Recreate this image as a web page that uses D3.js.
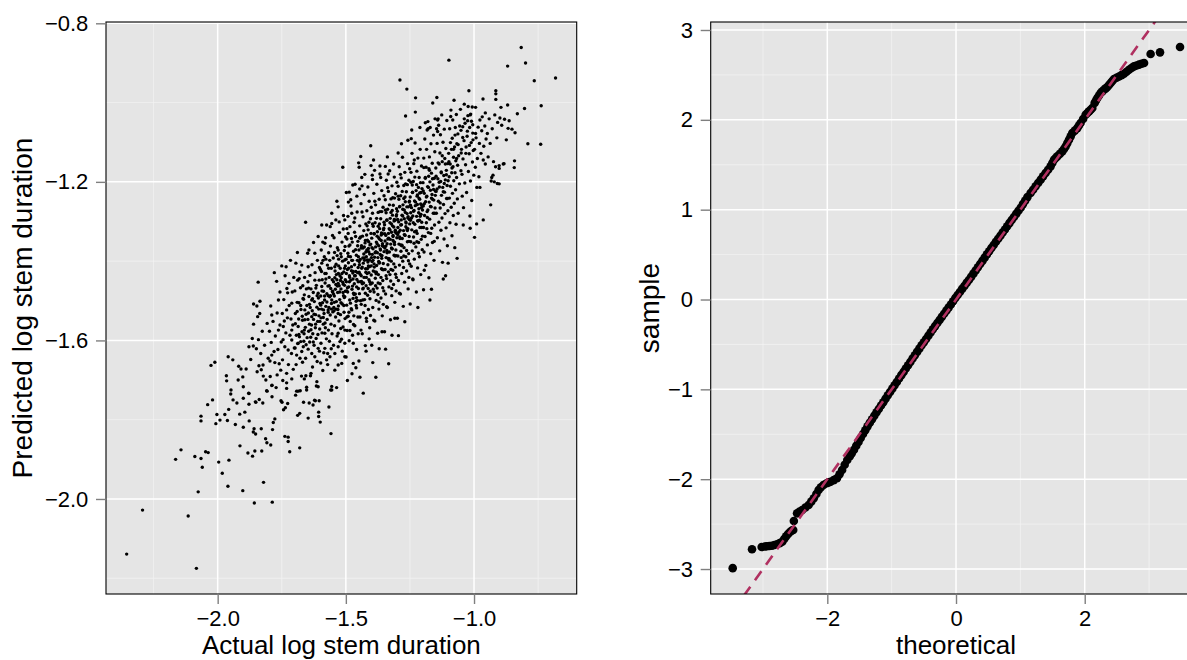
<!DOCTYPE html>
<html><head><meta charset="utf-8">
<script src="https://cdn.jsdelivr.net/npm/d3@7"></script>
<style>body{margin:0;background:#fff;} svg{display:block;}</style>
</head><body>
<svg id="c" width="1187" height="660"></svg>
<script>
// ---------------- DATA ----------------
// Left panel: actual vs predicted log stem duration (each point [actual, predicted])
const scatterPoints = [
[-2.355,-2.139],[-2.293,-2.028],[-2.115,-2.043],[-2.083,-2.175],[-2.076,-1.982],[-2.164,-1.900],[-2.143,-1.876],[-2.089,-1.893],[-2.065,-1.898],[-2.060,-1.920],[-2.047,-1.881],[-2.037,-1.883],[-2.003,-1.787],[-2.007,-1.810],[-2.039,-1.762],[-2.020,-1.750],[-2.026,-1.663],[-2.011,-1.655],[-2.065,-1.791],[-2.065,-1.803],
[-1.996,-1.907],[-1.982,-1.935],[-1.960,-1.968],[-1.956,-1.902],[-1.972,-1.787],[-1.962,-1.802],[-1.957,-1.774],[-1.991,-1.801],[-1.959,-1.641],[-1.966,-1.689],[-1.965,-1.702],
[-1.902,-1.979],[-1.913,-1.866],[-1.914,-1.786],[-1.949,-1.735],[-1.948,-1.725],[-1.940,-1.750],[-1.941,-1.649],[-1.918,-1.665],[-1.909,-1.672],[-1.902,-1.692],[-1.920,-1.700],[-1.931,-1.812],[-1.925,-1.758],
[-1.857,-2.010],[-1.882,-1.884],[-1.864,-1.892],[-1.855,-1.879],[-1.877,-1.803],[-1.858,-1.823],[-1.861,-1.831],[-1.852,-1.836],[-1.878,-1.761],[-1.878,-1.734],[-1.851,-1.756],[-1.865,-1.595],[-1.878,-1.616],[-1.861,-1.614],[-1.879,-1.733],[-1.853,-1.755],[-1.860,-1.508],[-1.860,-1.559],[-1.900,-1.746],[-1.900,-1.819],[-1.900,-1.717],[-1.889,-1.672],[-1.871,-1.648],[-1.894,-1.781],
[-1.828,-1.879],[-1.813,-1.848],[-1.808,-1.858],[-1.830,-1.823],[-1.809,-1.727],[-1.824,-1.758],[-1.838,-1.749],[-1.821,-1.958],[-1.846,-1.679],[-1.839,-1.664],[-1.830,-1.674],[-1.823,-1.662],[-1.822,-1.690],[-1.812,-1.700],[-1.807,-1.728],[-1.842,-1.453],[-1.847,-1.513],[-1.835,-1.501],[-1.836,-1.532],[-1.844,-1.540],[-1.807,-1.557],[-1.849,-1.621],[-1.841,-1.598],[-1.832,-1.633],[-1.826,-1.577],[-1.817,-1.612],[-1.803,-1.645],
[-1.793,-1.864],[-1.787,-2.008],[-1.786,-1.825],[-1.783,-1.807],[-1.777,-1.798],[-1.788,-1.742],[-1.788,-1.713],[-1.753,-1.752],[-1.789,-1.714],[-1.796,-1.652],[-1.789,-1.637],[-1.777,-1.656],[-1.768,-1.687],[-1.754,-1.675],[-1.750,-1.412],[-1.779,-1.429],[-1.770,-1.451],[-1.793,-1.513],[-1.789,-1.536],[-1.763,-1.498],[-1.757,-1.478],[-1.763,-1.574],[-1.798,-1.577],[-1.795,-1.691],[-1.791,-1.605],[-1.784,-1.552],[-1.780,-1.628],[-1.775,-1.589],[-1.772,-1.719],[-1.768,-1.531],[-1.765,-1.623],[-1.760,-1.659],[-1.757,-1.561],[-1.752,-1.604],
[-1.738,-1.842],[-1.725,-1.844],[-1.725,-1.855],[-1.719,-1.881],[-1.727,-1.759],[-1.743,-1.775],[-1.736,-1.770],[-1.749,-1.756],[-1.731,-1.683],[-1.731,-1.707],[-1.731,-1.721],[-1.711,-1.697],[-1.747,-1.649],[-1.725,-1.624],[-1.738,-1.616],[-1.711,-1.599],[-1.722,-1.456],[-1.727,-1.480],[-1.711,-1.506],[-1.731,-1.523],[-1.744,-1.565],[-1.711,-1.574],[-1.705,-1.673],[-1.748,-1.532],[-1.745,-1.598],[-1.742,-1.497],[-1.740,-1.551],[-1.737,-1.437],[-1.734,-1.581],[-1.730,-1.469],[-1.728,-1.543],[-1.724,-1.661],[-1.721,-1.512],[-1.718,-1.587],[-1.716,-1.398],[-1.714,-1.546],[-1.712,-1.633],[-1.709,-1.478],[-1.707,-1.561],[-1.703,-1.441],[-1.701,-1.619],[-1.746,-1.701],[-1.733,-1.414],
[-1.692,-1.728],[-1.686,-1.607],[-1.692,-1.637],[-1.679,-1.645],[-1.672,-1.628],[-1.666,-1.616],[-1.662,-1.697],[-1.656,-1.689],[-1.653,-1.725],[-1.695,-1.405],[-1.672,-1.410],[-1.679,-1.427],[-1.699,-1.475],[-1.688,-1.448],[-1.682,-1.444],[-1.686,-1.565],[-1.660,-1.548],[-1.660,-1.523],[-1.662,-1.485],[-1.657,-1.302],[-1.688,-1.789],[-1.680,-1.784],[-1.696,-1.738],[-1.686,-1.728],[-1.678,-1.727],[-1.665,-1.756],[-1.653,-1.718],[-1.680,-1.871],
[-1.697,-1.532],[-1.693,-1.587],[-1.690,-1.504],[-1.684,-1.546],[-1.681,-1.591],[-1.677,-1.467],[-1.675,-1.522],[-1.671,-1.578],[-1.669,-1.655],[-1.667,-1.494],[-1.664,-1.602],[-1.661,-1.441],[-1.658,-1.567],[-1.655,-1.611],[-1.652,-1.512],[-1.698,-1.619],[-1.694,-1.661],[-1.683,-1.505],[-1.676,-1.603],[-1.670,-1.539],[-1.668,-1.462],[-1.663,-1.583],[-1.657,-1.645],[-1.654,-1.470],[-1.651,-1.593],[-1.689,-1.378],[-1.673,-1.690],
[-1.697,-1.558],[-1.690,-1.527],[-1.683,-1.585],[-1.676,-1.512],[-1.669,-1.549],[-1.662,-1.574],[-1.655,-1.534],[-1.688,-1.608],[-1.665,-1.496],
[-1.647,-1.796],[-1.643,-1.758],[-1.628,-1.763],[-1.619,-1.752],[-1.604,-1.752],[-1.615,-1.715],[-1.606,-1.781],[-1.606,-1.792],[-1.636,-1.683],[-1.613,-1.704],[-1.608,-1.717],[-1.647,-1.622],[-1.633,-1.633],[-1.621,-1.641],[-1.608,-1.620],[-1.647,-1.414],[-1.633,-1.540],[-1.633,-1.498],[-1.608,-1.481],[-1.621,-1.448],[-1.621,-1.380],[-1.649,-1.380],[-1.608,-1.338],[-1.622,-1.751],
[-1.648,-1.452],[-1.646,-1.531],[-1.645,-1.577],[-1.644,-1.489],[-1.642,-1.559],[-1.641,-1.604],[-1.640,-1.436],[-1.639,-1.517],[-1.637,-1.592],[-1.636,-1.470],[-1.634,-1.561],[-1.632,-1.409],[-1.631,-1.525],[-1.630,-1.667],[-1.629,-1.583],[-1.627,-1.479],[-1.626,-1.547],[-1.624,-1.612],[-1.623,-1.502],[-1.620,-1.429],[-1.619,-1.568],[-1.618,-1.535],[-1.616,-1.595],[-1.615,-1.461],[-1.613,-1.516],[-1.612,-1.653],[-1.611,-1.398],[-1.610,-1.552],[-1.609,-1.585],[-1.607,-1.493],[-1.605,-1.538],[-1.604,-1.448],[-1.603,-1.627],[-1.602,-1.571],[-1.601,-1.507],[-1.644,-1.372],[-1.638,-1.689],[-1.626,-1.353],[-1.617,-1.468],[-1.603,-1.416],
[-1.648,-1.547],[-1.642,-1.509],[-1.636,-1.573],[-1.630,-1.495],[-1.624,-1.534],[-1.618,-1.559],[-1.612,-1.487],[-1.606,-1.521],[-1.601,-1.552],[-1.645,-1.468],[-1.627,-1.604],
[-1.600,-1.806],[-1.590,-1.676],[-1.575,-1.649],[-1.555,-1.725],[-1.597,-1.607],[-1.582,-1.620],[-1.571,-1.633],[-1.562,-1.641],[-1.558,-1.835],[-1.566,-1.768],[-1.559,-1.725],[-1.555,-1.716],[-1.594,-1.464],[-1.582,-1.431],[-1.594,-1.405],[-1.582,-1.355],[-1.594,-1.309],[-1.575,-1.309],[-1.555,-1.305],[-1.555,-1.279],[-1.555,-1.498],[-1.569,-1.523],[-1.582,-1.582],[-1.561,-1.313],
[-1.599,-1.421],[-1.598,-1.488],[-1.597,-1.543],[-1.596,-1.372],[-1.595,-1.521],[-1.593,-1.581],[-1.592,-1.447],[-1.591,-1.505],[-1.589,-1.398],[-1.588,-1.559],[-1.587,-1.476],[-1.586,-1.631],[-1.585,-1.532],[-1.584,-1.389],[-1.583,-1.498],[-1.581,-1.455],[-1.580,-1.568],[-1.579,-1.341],[-1.578,-1.514],[-1.577,-1.431],[-1.576,-1.596],[-1.574,-1.482],[-1.573,-1.547],[-1.572,-1.410],[-1.570,-1.463],[-1.568,-1.574],[-1.567,-1.379],[-1.566,-1.517],[-1.565,-1.441],[-1.564,-1.602],[-1.563,-1.490],[-1.561,-1.536],[-1.560,-1.362],[-1.559,-1.469],[-1.558,-1.559],[-1.557,-1.418],[-1.556,-1.507],[-1.554,-1.583],[-1.553,-1.447],[-1.552,-1.335],[-1.551,-1.528],[-1.598,-1.657],[-1.590,-1.352],[-1.578,-1.395],[-1.571,-1.661],[-1.563,-1.398],[-1.557,-1.621],[-1.587,-1.523],[-1.569,-1.487],[-1.552,-1.476],
[-1.598,-1.511],[-1.593,-1.475],[-1.588,-1.542],[-1.583,-1.488],[-1.578,-1.445],[-1.574,-1.503],[-1.569,-1.529],[-1.565,-1.462],[-1.560,-1.487],[-1.556,-1.521],[-1.552,-1.478],[-1.595,-1.426],[-1.581,-1.556],[-1.567,-1.418],
[-1.543,-1.675],[-1.530,-1.662],[-1.516,-1.658],[-1.543,-1.633],[-1.530,-1.616],[-1.523,-1.603],[-1.504,-1.641],[-1.504,-1.607],[-1.536,-1.719],[-1.530,-1.263],[-1.504,-1.296],[-1.530,-1.372],[-1.504,-1.397],[-1.543,-1.414],[-1.530,-1.456],[-1.504,-1.490],[-1.530,-1.532],[-1.504,-1.574],[-1.530,-1.582],[-1.512,-1.163],
[-1.549,-1.392],[-1.548,-1.452],[-1.547,-1.517],[-1.546,-1.341],[-1.545,-1.488],[-1.544,-1.563],[-1.542,-1.425],[-1.541,-1.471],[-1.540,-1.541],[-1.539,-1.296],[-1.538,-1.408],[-1.537,-1.502],[-1.535,-1.447],[-1.534,-1.589],[-1.533,-1.366],[-1.532,-1.479],[-1.531,-1.522],[-1.529,-1.431],[-1.528,-1.395],[-1.527,-1.551],[-1.526,-1.462],[-1.525,-1.328],[-1.524,-1.497],[-1.522,-1.418],[-1.521,-1.535],[-1.520,-1.381],[-1.519,-1.470],[-1.518,-1.442],[-1.517,-1.597],[-1.515,-1.352],[-1.514,-1.508],[-1.513,-1.400],[-1.512,-1.453],[-1.511,-1.566],[-1.510,-1.319],[-1.509,-1.487],[-1.508,-1.427],[-1.507,-1.529],[-1.506,-1.373],[-1.505,-1.461],[-1.503,-1.545],[-1.502,-1.412],[-1.501,-1.339],[-1.548,-1.612],[-1.544,-1.378],[-1.539,-1.459],[-1.535,-1.249],[-1.529,-1.513],[-1.523,-1.437],[-1.518,-1.389],[-1.514,-1.627],[-1.509,-1.285],[-1.505,-1.418],[-1.502,-1.476],[-1.546,-1.525],[-1.537,-1.434],[-1.526,-1.301],[-1.520,-1.570],[-1.511,-1.479],[-1.503,-1.363],
[-1.548,-1.483],[-1.543,-1.442],[-1.538,-1.521],[-1.533,-1.463],[-1.528,-1.412],[-1.524,-1.478],[-1.519,-1.505],[-1.515,-1.431],[-1.510,-1.458],[-1.506,-1.492],[-1.502,-1.447],[-1.545,-1.504],[-1.534,-1.386],[-1.521,-1.449],[-1.508,-1.512],
[-1.491,-1.330],[-1.477,-1.279],[-1.477,-1.523],[-1.471,-1.607],[-1.471,-1.658],[-1.498,-1.227],[-1.473,-1.208],[-1.464,-1.206],[-1.450,-1.152],[-1.448,-1.163],
[-1.499,-1.395],[-1.498,-1.452],[-1.497,-1.511],[-1.496,-1.344],[-1.495,-1.575],[-1.494,-1.421],[-1.493,-1.478],[-1.492,-1.287],[-1.491,-1.539],[-1.490,-1.404],[-1.489,-1.465],[-1.488,-1.362],[-1.487,-1.601],[-1.486,-1.437],[-1.485,-1.498],[-1.484,-1.313],[-1.483,-1.552],[-1.482,-1.389],[-1.481,-1.448],[-1.480,-1.261],[-1.479,-1.520],[-1.478,-1.414],[-1.476,-1.471],[-1.475,-1.352],[-1.474,-1.587],[-1.473,-1.430],[-1.472,-1.494],[-1.470,-1.375],[-1.469,-1.538],[-1.468,-1.302],[-1.467,-1.457],[-1.466,-1.409],[-1.465,-1.563],[-1.463,-1.483],[-1.462,-1.338],[-1.461,-1.426],[-1.460,-1.512],[-1.459,-1.385],[-1.458,-1.623],[-1.457,-1.446],[-1.456,-1.276],[-1.455,-1.499],[-1.454,-1.361],[-1.453,-1.541],[-1.452,-1.416],[-1.451,-1.469],[-1.499,-1.642],[-1.496,-1.318],[-1.492,-1.380],[-1.488,-1.529],[-1.485,-1.441],[-1.481,-1.245],[-1.477,-1.398],[-1.474,-1.463],[-1.470,-1.560],[-1.466,-1.327],[-1.463,-1.437],[-1.459,-1.492],[-1.455,-1.398],[-1.452,-1.583],[-1.497,-1.475],[-1.490,-1.251],[-1.484,-1.575],[-1.478,-1.343],[-1.471,-1.426],[-1.465,-1.291],[-1.458,-1.518],[-1.453,-1.350],[-1.494,-1.701],[-1.476,-1.684],[-1.461,-1.669],[-1.487,-1.226],[-1.468,-1.484],[-1.457,-1.236],[-1.489,-1.418],
[-1.498,-1.431],[-1.494,-1.467],[-1.490,-1.388],[-1.486,-1.452],[-1.482,-1.506],[-1.478,-1.424],[-1.474,-1.398],[-1.470,-1.481],[-1.466,-1.437],[-1.462,-1.371],[-1.458,-1.465],[-1.454,-1.429],[-1.451,-1.389],[-1.496,-1.541],[-1.484,-1.359],[-1.472,-1.445],[-1.460,-1.501],[-1.452,-1.452],
[-1.442,-1.136],[-1.437,-1.210],[-1.426,-1.181],[-1.403,-1.109],[-1.402,-1.159],
[-1.449,-1.372],[-1.448,-1.428],[-1.447,-1.482],[-1.446,-1.311],[-1.445,-1.541],[-1.444,-1.396],[-1.443,-1.452],[-1.441,-1.255],[-1.440,-1.509],[-1.439,-1.361],[-1.438,-1.418],[-1.436,-1.583],[-1.435,-1.337],[-1.434,-1.470],[-1.433,-1.288],[-1.432,-1.405],[-1.431,-1.530],[-1.430,-1.382],[-1.429,-1.441],[-1.428,-1.232],[-1.427,-1.497],[-1.425,-1.354],[-1.424,-1.613],[-1.423,-1.419],[-1.422,-1.306],[-1.421,-1.462],[-1.420,-1.389],[-1.419,-1.552],[-1.418,-1.273],[-1.417,-1.431],[-1.416,-1.347],[-1.415,-1.486],[-1.414,-1.402],[-1.413,-1.321],[-1.412,-1.522],[-1.411,-1.376],[-1.410,-1.447],[-1.409,-1.249],[-1.408,-1.414],[-1.407,-1.568],[-1.406,-1.359],[-1.405,-1.476],[-1.404,-1.293],[-1.401,-1.435],[-1.400,-1.391],[-1.449,-1.652],[-1.446,-1.218],[-1.443,-1.339],[-1.440,-1.437],[-1.437,-1.276],[-1.434,-1.392],[-1.431,-1.455],[-1.428,-1.364],[-1.425,-1.512],[-1.422,-1.428],[-1.419,-1.334],[-1.416,-1.397],[-1.413,-1.469],[-1.410,-1.302],[-1.407,-1.382],[-1.404,-1.537],[-1.401,-1.264],[-1.447,-1.409],[-1.441,-1.574],[-1.436,-1.457],[-1.430,-1.323],[-1.424,-1.481],[-1.418,-1.372],[-1.412,-1.412],[-1.406,-1.495],[-1.402,-1.330],[-1.445,-1.693],[-1.432,-1.733],[-1.421,-1.627],[-1.409,-1.596],[-1.438,-1.189],[-1.414,-1.213],[-1.427,-1.398],[-1.411,-1.351],[-1.443,-1.500],[-1.420,-1.544],[-1.407,-1.452],[-1.433,-1.367],
[-1.448,-1.401],[-1.444,-1.433],[-1.440,-1.367],[-1.436,-1.415],[-1.432,-1.468],[-1.428,-1.392],[-1.424,-1.348],[-1.420,-1.441],[-1.416,-1.419],[-1.412,-1.368],[-1.408,-1.397],[-1.404,-1.458],[-1.401,-1.412],[-1.446,-1.342],[-1.434,-1.498],[-1.422,-1.377],[-1.410,-1.429],[-1.403,-1.357],[-1.439,-1.451],[-1.417,-1.311],
[-1.392,-1.145],[-1.367,-1.160],[-1.397,-1.183],[-1.367,-1.180],
[-1.399,-1.342],[-1.398,-1.401],[-1.397,-1.455],[-1.396,-1.279],[-1.395,-1.517],[-1.394,-1.369],[-1.393,-1.425],[-1.391,-1.229],[-1.390,-1.478],[-1.389,-1.331],[-1.388,-1.390],[-1.387,-1.551],[-1.386,-1.303],[-1.385,-1.443],[-1.384,-1.258],[-1.383,-1.376],[-1.382,-1.499],[-1.381,-1.352],[-1.380,-1.411],[-1.379,-1.206],[-1.378,-1.468],[-1.377,-1.326],[-1.376,-1.582],[-1.375,-1.391],[-1.374,-1.277],[-1.373,-1.434],[-1.372,-1.361],[-1.371,-1.521],[-1.370,-1.244],[-1.369,-1.403],[-1.368,-1.318],[-1.366,-1.457],[-1.365,-1.372],[-1.364,-1.293],[-1.363,-1.493],[-1.362,-1.348],[-1.361,-1.419],[-1.360,-1.222],[-1.359,-1.386],[-1.358,-1.538],[-1.357,-1.331],[-1.356,-1.449],[-1.355,-1.264],[-1.354,-1.406],[-1.353,-1.363],[-1.352,-1.475],[-1.351,-1.302],[-1.399,-1.612],[-1.396,-1.194],[-1.393,-1.312],[-1.390,-1.407],[-1.387,-1.249],[-1.384,-1.364],[-1.381,-1.428],[-1.378,-1.337],[-1.375,-1.484],[-1.372,-1.401],[-1.369,-1.306],[-1.366,-1.369],[-1.363,-1.441],[-1.360,-1.275],[-1.357,-1.356],[-1.354,-1.509],[-1.351,-1.235],[-1.397,-1.383],[-1.391,-1.549],[-1.386,-1.427],[-1.380,-1.292],[-1.374,-1.455],[-1.368,-1.345],[-1.362,-1.386],[-1.356,-1.467],[-1.352,-1.317],[-1.395,-1.656],[-1.383,-1.693],[-1.370,-1.621],[-1.359,-1.578],[-1.388,-1.171],[-1.364,-1.189],[-1.377,-1.379],[-1.361,-1.329],[-1.393,-1.471],[-1.371,-1.503],[-1.358,-1.421],
[-1.398,-1.366],[-1.394,-1.398],[-1.390,-1.331],[-1.386,-1.379],[-1.382,-1.432],[-1.378,-1.356],[-1.374,-1.312],[-1.370,-1.405],[-1.366,-1.383],[-1.362,-1.334],[-1.358,-1.361],[-1.354,-1.422],[-1.351,-1.376],[-1.396,-1.306],[-1.384,-1.462],[-1.372,-1.341],[-1.360,-1.393],[-1.353,-1.321],[-1.389,-1.415],[-1.367,-1.275],
[-1.335,-1.180],
[-1.349,-1.308],[-1.348,-1.367],[-1.347,-1.421],[-1.346,-1.245],[-1.345,-1.483],[-1.344,-1.335],[-1.343,-1.391],[-1.342,-1.196],[-1.341,-1.444],[-1.340,-1.297],[-1.339,-1.356],[-1.338,-1.517],[-1.337,-1.269],[-1.336,-1.409],[-1.334,-1.224],[-1.333,-1.342],[-1.332,-1.465],[-1.331,-1.318],[-1.330,-1.377],[-1.329,-1.172],[-1.328,-1.434],[-1.327,-1.292],[-1.326,-1.548],[-1.325,-1.357],[-1.324,-1.243],[-1.323,-1.400],[-1.322,-1.327],[-1.321,-1.487],[-1.320,-1.210],[-1.319,-1.369],[-1.318,-1.284],[-1.317,-1.423],[-1.316,-1.338],[-1.315,-1.259],[-1.314,-1.459],[-1.313,-1.314],[-1.312,-1.385],[-1.311,-1.188],[-1.310,-1.352],[-1.309,-1.504],[-1.308,-1.297],[-1.307,-1.415],[-1.306,-1.230],[-1.305,-1.372],[-1.304,-1.329],[-1.303,-1.441],[-1.302,-1.268],[-1.349,-1.578],[-1.346,-1.161],[-1.343,-1.278],[-1.340,-1.373],[-1.337,-1.215],[-1.334,-1.330],[-1.331,-1.394],[-1.328,-1.303],[-1.325,-1.450],[-1.322,-1.367],[-1.319,-1.272],[-1.316,-1.335],[-1.313,-1.407],[-1.310,-1.241],[-1.307,-1.322],[-1.304,-1.475],[-1.301,-1.201],[-1.347,-1.349],[-1.341,-1.515],[-1.336,-1.393],[-1.330,-1.258],[-1.324,-1.421],[-1.318,-1.311],[-1.312,-1.352],[-1.306,-1.433],[-1.302,-1.283],[-1.345,-1.622],[-1.333,-1.659],[-1.320,-1.587],[-1.309,-1.544],[-1.338,-1.137],[-1.314,-1.155],[-1.327,-1.345],[-1.311,-1.295],[-1.343,-1.437],[-1.321,-1.469],[-1.308,-1.387],
[-1.348,-1.331],[-1.344,-1.362],[-1.340,-1.296],[-1.336,-1.344],[-1.332,-1.397],[-1.328,-1.321],[-1.324,-1.277],[-1.320,-1.369],[-1.316,-1.348],[-1.312,-1.299],[-1.308,-1.326],[-1.304,-1.386],[-1.301,-1.341],[-1.346,-1.271],[-1.334,-1.427],[-1.322,-1.306],[-1.310,-1.358],[-1.303,-1.286],[-1.339,-1.379],[-1.317,-1.240],
[-1.289,-0.943],[-1.262,-0.966],[-1.267,-1.034],
[-1.299,-1.274],[-1.298,-1.333],[-1.297,-1.387],[-1.296,-1.211],[-1.295,-1.449],[-1.294,-1.301],[-1.293,-1.357],[-1.292,-1.162],[-1.291,-1.410],[-1.290,-1.263],[-1.288,-1.322],[-1.287,-1.483],[-1.286,-1.235],[-1.285,-1.375],[-1.284,-1.190],[-1.283,-1.308],[-1.282,-1.431],[-1.281,-1.284],[-1.280,-1.343],[-1.279,-1.138],[-1.278,-1.400],[-1.277,-1.258],[-1.276,-1.514],[-1.275,-1.323],[-1.274,-1.209],[-1.273,-1.366],[-1.272,-1.293],[-1.271,-1.453],[-1.270,-1.176],[-1.269,-1.335],[-1.268,-1.250],[-1.266,-1.389],[-1.265,-1.304],[-1.264,-1.225],[-1.263,-1.425],[-1.261,-1.280],[-1.260,-1.351],[-1.259,-1.154],[-1.258,-1.318],[-1.257,-1.470],[-1.256,-1.263],[-1.255,-1.381],[-1.254,-1.196],[-1.253,-1.338],[-1.252,-1.295],[-1.251,-1.407],[-1.299,-1.544],[-1.296,-1.127],[-1.293,-1.244],[-1.290,-1.339],[-1.287,-1.181],[-1.284,-1.296],[-1.281,-1.360],[-1.278,-1.269],[-1.275,-1.416],[-1.272,-1.333],[-1.269,-1.238],[-1.266,-1.301],[-1.263,-1.373],[-1.260,-1.207],[-1.257,-1.288],[-1.254,-1.441],[-1.251,-1.167],[-1.297,-1.315],[-1.291,-1.481],[-1.286,-1.359],[-1.280,-1.224],[-1.274,-1.387],[-1.268,-1.277],[-1.262,-1.318],[-1.256,-1.399],[-1.252,-1.249],[-1.295,-1.588],[-1.283,-1.104],[-1.270,-1.553],[-1.258,-1.095],
[-1.298,-1.295],[-1.294,-1.327],[-1.290,-1.262],[-1.286,-1.309],[-1.282,-1.361],[-1.278,-1.286],[-1.274,-1.242],[-1.270,-1.334],[-1.266,-1.313],[-1.262,-1.263],[-1.258,-1.291],[-1.254,-1.350],[-1.251,-1.306],[-1.296,-1.236],[-1.284,-1.391],[-1.272,-1.271],[-1.260,-1.323],[-1.253,-1.251],[-1.289,-1.343],[-1.267,-1.205],
[-1.228,-0.988],[-1.229,-1.024],
[-1.249,-1.238],[-1.248,-1.297],[-1.247,-1.351],[-1.246,-1.176],[-1.245,-1.413],[-1.244,-1.265],[-1.243,-1.321],[-1.242,-1.128],[-1.241,-1.374],[-1.240,-1.227],[-1.239,-1.286],[-1.238,-1.447],[-1.237,-1.199],[-1.236,-1.339],[-1.235,-1.154],[-1.234,-1.272],[-1.233,-1.395],[-1.232,-1.248],[-1.231,-1.307],[-1.230,-1.102],[-1.227,-1.364],[-1.226,-1.222],[-1.225,-1.478],[-1.224,-1.287],[-1.223,-1.173],[-1.222,-1.330],[-1.221,-1.257],[-1.220,-1.417],[-1.219,-1.140],[-1.218,-1.299],[-1.217,-1.214],[-1.216,-1.353],[-1.215,-1.268],[-1.214,-1.189],[-1.213,-1.389],[-1.212,-1.244],[-1.211,-1.315],[-1.210,-1.118],[-1.209,-1.282],[-1.208,-1.434],[-1.207,-1.227],[-1.206,-1.345],[-1.205,-1.160],[-1.204,-1.302],[-1.203,-1.259],[-1.202,-1.371],[-1.249,-1.508],[-1.245,-1.091],[-1.241,-1.208],[-1.237,-1.303],[-1.233,-1.145],[-1.229,-1.260],[-1.225,-1.324],[-1.221,-1.233],[-1.217,-1.380],[-1.213,-1.297],[-1.209,-1.202],[-1.205,-1.265],[-1.201,-1.337],[-1.247,-1.278],[-1.239,-1.445],[-1.231,-1.188],[-1.223,-1.351],[-1.215,-1.241],[-1.207,-1.282],[-1.243,-1.069],[-1.219,-1.517],[-1.211,-1.063],
[-1.248,-1.259],[-1.244,-1.291],[-1.240,-1.226],[-1.236,-1.274],[-1.232,-1.326],[-1.228,-1.251],[-1.224,-1.207],[-1.220,-1.298],[-1.216,-1.278],[-1.212,-1.228],[-1.208,-1.256],[-1.204,-1.315],[-1.201,-1.271],[-1.246,-1.201],[-1.234,-1.355],[-1.222,-1.236],[-1.210,-1.287],[-1.203,-1.217],
[-1.183,-1.069],[-1.171,-1.063],[-1.161,-1.001],[-1.172,-1.498],
[-1.199,-1.202],[-1.198,-1.261],[-1.197,-1.315],[-1.196,-1.140],[-1.195,-1.377],[-1.194,-1.229],[-1.193,-1.285],[-1.192,-1.092],[-1.191,-1.338],[-1.190,-1.191],[-1.189,-1.250],[-1.188,-1.411],[-1.187,-1.163],[-1.186,-1.303],[-1.185,-1.118],[-1.184,-1.236],[-1.182,-1.359],[-1.181,-1.212],[-1.180,-1.271],[-1.179,-1.066],[-1.178,-1.328],[-1.177,-1.186],[-1.176,-1.442],[-1.175,-1.251],[-1.174,-1.137],[-1.173,-1.294],[-1.170,-1.221],[-1.169,-1.381],[-1.168,-1.104],[-1.167,-1.263],[-1.166,-1.178],[-1.165,-1.317],[-1.164,-1.232],[-1.163,-1.153],[-1.162,-1.353],[-1.160,-1.208],[-1.159,-1.279],[-1.158,-1.082],[-1.157,-1.246],[-1.156,-1.398],[-1.155,-1.191],[-1.154,-1.309],[-1.153,-1.124],[-1.152,-1.266],[-1.151,-1.223],[-1.197,-1.472],[-1.190,-1.051],[-1.183,-1.275],[-1.176,-1.167],[-1.169,-1.330],[-1.162,-1.244],[-1.155,-1.350],[-1.194,-1.423],[-1.180,-1.048],[-1.166,-1.471],[-1.152,-1.041],
[-1.198,-1.223],[-1.194,-1.255],[-1.190,-1.189],[-1.186,-1.238],[-1.182,-1.290],[-1.178,-1.214],[-1.174,-1.171],[-1.170,-1.262],[-1.166,-1.241],[-1.162,-1.192],[-1.158,-1.219],[-1.154,-1.279],[-1.151,-1.234],[-1.196,-1.164],[-1.184,-1.318],[-1.172,-1.200],
[-1.142,-1.044],[-1.140,-1.041],[-1.146,-1.066],[-1.142,-1.073],[-1.145,-0.987],[-1.101,-1.405],[-1.111,-1.437],[-1.120,-1.445],
[-1.149,-1.165],[-1.148,-1.224],[-1.147,-1.279],[-1.144,-1.103],[-1.143,-1.341],[-1.141,-1.192],[-1.139,-1.249],[-1.138,-1.057],[-1.137,-1.302],[-1.136,-1.155],[-1.135,-1.213],[-1.134,-1.374],[-1.133,-1.127],[-1.132,-1.266],[-1.131,-1.081],[-1.130,-1.199],[-1.129,-1.322],[-1.128,-1.175],[-1.127,-1.234],[-1.126,-1.031],[-1.125,-1.291],[-1.124,-1.149],[-1.123,-1.403],[-1.122,-1.214],[-1.121,-1.100],[-1.119,-1.257],[-1.118,-1.184],[-1.117,-1.344],[-1.116,-1.067],[-1.115,-1.226],[-1.114,-1.141],[-1.113,-1.280],[-1.112,-1.195],[-1.110,-1.116],[-1.109,-1.316],[-1.108,-1.171],[-1.107,-1.242],[-1.106,-1.045],[-1.105,-1.209],[-1.104,-1.361],[-1.103,-1.154],[-1.102,-1.273],
[-1.148,-1.186],[-1.144,-1.218],[-1.140,-1.152],[-1.136,-1.201],[-1.132,-1.253],[-1.128,-1.177],[-1.124,-1.134],[-1.120,-1.225],[-1.116,-1.204],[-1.112,-1.155],[-1.108,-1.182],[-1.104,-1.242],[-1.101,-1.197],
[-1.098,-0.893],[-1.091,-1.035],[-1.066,-1.393],
[-1.099,-1.128],[-1.097,-1.187],[-1.096,-1.241],[-1.095,-1.066],[-1.094,-1.303],[-1.093,-1.155],[-1.092,-1.211],[-1.090,-1.019],[-1.089,-1.264],[-1.088,-1.118],[-1.087,-1.177],[-1.086,-1.336],[-1.085,-1.090],[-1.084,-1.229],[-1.083,-1.044],[-1.082,-1.162],[-1.081,-1.285],[-1.080,-1.138],[-1.079,-1.197],[-1.078,-0.994],[-1.077,-1.254],[-1.076,-1.112],[-1.075,-1.366],[-1.074,-1.177],[-1.073,-1.063],[-1.072,-1.220],[-1.071,-1.147],[-1.070,-1.307],[-1.069,-1.030],[-1.068,-1.189],[-1.067,-1.104],[-1.065,-1.243],[-1.064,-1.158],[-1.063,-1.079],[-1.062,-1.279],[-1.060,-1.134],[-1.057,-1.205],[-1.053,-1.017],[-1.051,-1.172],
[-1.098,-1.149],[-1.092,-1.101],[-1.086,-1.165],[-1.080,-1.118],[-1.074,-1.082],[-1.068,-1.141],[-1.062,-1.106],[-1.056,-1.059],[-1.050,-1.127],[-1.044,-1.088],[-1.038,-1.041],[-1.032,-1.128],[-1.026,-1.072],[-1.018,-1.108],[-1.010,-1.047],[-1.004,-1.094],
[-1.038,-1.004],[-1.023,-1.010],[-1.007,-1.011],[-1.015,-1.031],[-1.024,-1.033],[-1.013,-1.029],[-1.025,-1.046],[-1.035,-1.052],[-1.044,-1.061],[-1.051,-1.070],[-1.017,-1.063],[-1.005,-1.056],[-1.005,-1.077],[-1.020,-0.970],[-1.016,-1.286],[-1.015,-1.317],
[-1.049,-1.118],[-1.047,-1.181],[-1.046,-1.236],[-1.043,-1.142],[-1.041,-1.265],[-1.039,-1.096],[-1.036,-1.203],[-1.033,-1.157],[-1.031,-1.112],[-1.029,-1.227],[-1.027,-1.085],[-1.022,-1.174],[-1.019,-1.129],[-1.014,-1.198],[-1.011,-1.101],[-1.009,-1.247],[-1.006,-1.150],[-1.003,-1.121],[-1.001,-1.183],[-1.042,-1.309],
[-0.994,-1.012],[-0.994,-1.078],[-0.989,-1.214],[-0.990,-1.306],[-0.998,-1.340],[-0.977,-1.214],[-0.956,-1.026],[-0.968,-1.036],[-0.977,-1.044],[-0.965,-0.991],[-0.956,-1.155],[-0.964,-1.145],[-0.964,-1.296],
[-0.998,-1.118],[-0.995,-1.163],[-0.992,-1.089],[-0.987,-1.141],[-0.984,-1.062],[-0.981,-1.187],[-0.979,-1.103],[-0.973,-1.128],[-0.970,-1.071],[-0.962,-1.110],[-0.958,-1.059],[-0.953,-1.092],
[-0.915,-0.970],[-0.915,-0.978],[-0.915,-0.992],[-0.908,-1.050],[-0.931,-1.189],[-0.921,-1.200],[-0.909,-1.204],[-0.902,-1.205],[-0.924,-1.149],[-0.916,-1.162],[-0.902,-1.166],[-0.945,-1.137],[-0.926,-1.183],[-0.933,-1.198],[-0.935,-1.258],[-0.902,-1.159],
[-0.948,-1.078],[-0.941,-1.041],[-0.937,-1.103],[-0.929,-1.066],[-0.919,-1.031],[-0.911,-1.089],
[-0.899,-1.039],[-0.892,-1.057],[-0.881,-1.042],[-0.863,-1.046],[-0.867,-1.065],[-0.852,-1.067],[-0.869,-1.006],[-0.869,-0.908],[-0.883,-1.154],[-0.886,-1.155],[-0.895,-1.012],[-0.874,-1.094],
[-0.840,-1.076],[-0.842,-1.147],[-0.843,-1.164],[-0.816,-0.861],[-0.803,-1.015],[-0.799,-0.900],[-0.831,-1.028],
[-0.790,-1.104],[-0.740,-1.105],[-0.738,-1.008],[-0.765,-0.945],[-0.682,-0.938]
];
const scatterXTicks = [-2.0, -1.5, -1.0];
const scatterXMinor = [-2.25, -1.75, -1.25, -0.75];
const scatterYTicks = [-0.8, -1.2, -1.6, -2.0];
const scatterYMinor = [-1.0, -1.4, -1.8, -2.2];

// Right panel: normal Q-Q plot (each point [theoretical, sample])
const qqPoints = [
[-3.47,-2.99],[-3.17,-2.78],[-3.02,-2.755],[-2.97,-2.750],[-2.94,-2.747],[-2.90,-2.744],[-2.86,-2.741],[-2.82,-2.733],[-2.78,-2.725],[-2.74,-2.712],[-2.70,-2.696],[-2.67,-2.665],[-2.64,-2.635],[-2.61,-2.610],[-2.58,-2.588],[-2.55,-2.572],[-2.53,-2.566],
[-2.52,-2.465],[-2.47,-2.380],[-2.43,-2.360],[-2.39,-2.343],[-2.34,-2.315],[-2.29,-2.287],[-2.25,-2.250],[-2.21,-2.213],[-2.17,-2.165],[-2.135,-2.120],[-2.10,-2.090],[-2.06,-2.065],[-2.01,-2.045],[-1.98,-2.036],[-1.95,-2.028],[-1.90,-2.010],[-1.85,-1.990],[-1.81,-1.945],[-1.77,-1.898],[-1.73,-1.840],[-1.69,-1.786],[-1.65,-1.745],[-1.62,-1.712],
[-1.585,-1.672],[-1.55,-1.628],[-1.515,-1.585],[-1.48,-1.540],[-1.445,-1.497],[-1.41,-1.455],[-1.375,-1.412],[-1.34,-1.372],[-1.305,-1.333],[-1.27,-1.293],[-1.235,-1.255],[-1.20,-1.218],[-1.165,-1.180],[-1.13,-1.143],[-1.095,-1.104],[-1.06,-1.066],[-1.025,-1.029],[-0.99,-0.992],[-0.955,-0.955],[-0.92,-0.918],[-0.885,-0.880],[-0.85,-0.842],[-0.815,-0.806],[-0.78,-0.768],[-0.745,-0.731],[-0.71,-0.695],[-0.675,-0.657],[-0.64,-0.620],[-0.605,-0.583],[-0.57,-0.547],[-0.535,-0.510],[-0.50,-0.475],[-0.465,-0.440],[-0.43,-0.404],[-0.395,-0.367],[-0.36,-0.331],[-0.325,-0.296],[-0.29,-0.262],[-0.255,-0.228],[-0.22,-0.193],[-0.185,-0.158],[-0.15,-0.124],[-0.115,-0.090],[-0.08,-0.056],[-0.045,-0.020],[-0.01,0.016],[0.025,0.050],[0.06,0.084],[0.095,0.118],[0.13,0.151],[0.165,0.185],[0.20,0.218],[0.235,0.252],[0.27,0.288],[0.305,0.323],[0.34,0.359],[0.375,0.395],[0.41,0.430],[0.445,0.466],[0.48,0.502],[0.515,0.538],[0.55,0.573],[0.585,0.607],[0.62,0.642],[0.655,0.676],[0.69,0.710],[0.725,0.745],[0.76,0.780],[0.795,0.815],[0.83,0.850],[0.865,0.885],[0.90,0.919],[0.935,0.953],[0.97,0.988],[1.005,1.022],[1.04,1.062],[1.075,1.101],[1.11,1.140],
[1.159,1.185],[1.198,1.222],[1.237,1.260],[1.276,1.297],[1.315,1.334],[1.353,1.371],[1.392,1.408],[1.431,1.445],[1.470,1.482],[1.497,1.519],[1.523,1.556],[1.549,1.575],[1.574,1.593],[1.613,1.621],[1.652,1.649],[1.678,1.676],[1.703,1.704],[1.730,1.741],[1.756,1.779],[1.782,1.816],[1.807,1.853],[1.846,1.880],[1.885,1.908],[1.910,1.936],[1.936,1.964],[1.975,2.010],[2.014,2.057],[2.041,2.076],[2.067,2.094],[2.093,2.112],[2.118,2.131],[2.154,2.187],[2.175,2.215],[2.196,2.243],[2.222,2.270],[2.247,2.298],[2.274,2.317],[2.300,2.335],[2.326,2.350],[2.351,2.365],[2.377,2.388],[2.403,2.410],[2.429,2.432],[2.455,2.454],[2.494,2.468],[2.533,2.483],[2.572,2.498],[2.611,2.513],[2.650,2.536],[2.688,2.558],[2.727,2.577],[2.766,2.595],[2.805,2.605],[2.844,2.614],[2.883,2.624],[2.922,2.633],[3.024,2.733],[3.170,2.751],[3.481,2.811]
];
const qqLineCoef = [1.0, 0.0]; // [slope, intercept] of reference line
const qqXTicks = [-2, 0, 2];
const qqXMinor = [-3, -1, 1, 3];
const qqYTicks = [-3, -2, -1, 0, 1, 2, 3];
const qqYMinor = [-2.5, -1.5, -0.5, 0.5, 1.5, 2.5];

// ---------------- DRAWING ----------------
const FONT = '"Liberation Sans", Arial, Helvetica, sans-serif';
const svg = d3.select("#c");

function buildPanel(cfg) {
  const x = d3.scaleLinear().domain(cfg.xDomain).range([cfg.left, cfg.left + cfg.width]);
  const y = d3.scaleLinear().domain(cfg.yDomain).range([cfg.top + cfg.height, cfg.top]);
  const g = svg.append("g");
  g.append("clipPath").attr("id", cfg.id).append("rect")
    .attr("x", cfg.left).attr("y", cfg.top).attr("width", cfg.width).attr("height", cfg.height);
  g.append("rect").attr("x", cfg.left).attr("y", cfg.top).attr("width", cfg.width).attr("height", cfg.height)
    .attr("fill", "#E5E5E5");
  const grid = g.append("g").attr("clip-path", `url(#${cfg.id})`);
  grid.selectAll(".vmin").data(cfg.xMinor).join("line")
    .attr("x1", d => x(d)).attr("x2", d => x(d)).attr("y1", cfg.top).attr("y2", cfg.top + cfg.height)
    .attr("stroke", "#F2F2F2").attr("stroke-width", 0.8);
  grid.selectAll(".hmin").data(cfg.yMinor).join("line")
    .attr("y1", d => y(d)).attr("y2", d => y(d)).attr("x1", cfg.left).attr("x2", cfg.left + cfg.width)
    .attr("stroke", "#F2F2F2").attr("stroke-width", 0.8);
  grid.selectAll(".vmaj").data(cfg.xTicks).join("line")
    .attr("x1", d => x(d)).attr("x2", d => x(d)).attr("y1", cfg.top).attr("y2", cfg.top + cfg.height)
    .attr("stroke", "#FFFFFF").attr("stroke-width", 1.5);
  grid.selectAll(".hmaj").data(cfg.yTicks).join("line")
    .attr("y1", d => y(d)).attr("y2", d => y(d)).attr("x1", cfg.left).attr("x2", cfg.left + cfg.width)
    .attr("stroke", "#FFFFFF").attr("stroke-width", 1.5);
  return {x, y, g, grid};
}

function finishPanel(p, cfg) {
  const {x, y, g} = p;
  g.append("rect").attr("x", cfg.left).attr("y", cfg.top).attr("width", cfg.width).attr("height", cfg.height)
    .attr("fill", "none").attr("stroke", "#000").attr("stroke-width", 1.1);
  const ax = g.append("g").attr("transform", `translate(0,${cfg.top + cfg.height})`)
    .call(d3.axisBottom(x).tickValues(cfg.xTicks).tickSize(10).tickPadding(6).tickFormat(cfg.fmt));
  const ay = g.append("g").attr("transform", `translate(${cfg.left},0)`)
    .call(d3.axisLeft(y).tickValues(cfg.yTicks).tickSize(10).tickPadding(7.7).tickFormat(cfg.yfmt));
  [ax, ay].forEach(a => {
    a.select(".domain").remove();
    a.selectAll(".tick line").attr("stroke", "#7F7F7F").attr("stroke-width", 1.4);
    a.selectAll(".tick text").attr("fill", "#000").style("font-family", FONT).style("font-size", "22px");
  });
  g.append("text").attr("x", cfg.left + cfg.width / 2).attr("y", 654)
    .attr("text-anchor", "middle").style("font-family", FONT).style("font-size", "26px").attr("fill", "#000")
    .text(cfg.xTitle);
  g.append("text").attr("transform", `translate(${cfg.yTitleX},${cfg.top + cfg.height / 2}) rotate(-90)`)
    .attr("text-anchor", "middle").style("font-family", FONT).style("font-size", "28px").attr("fill", "#000")
    .text(cfg.yTitle);
}

const fmt = f => (d => d3.format(f)(d));

// Left panel
const cfgL = {id: "clipL", left: 106, top: 22, width: 470.7, height: 572,
  xDomain: [-2.4356, -0.5995], yDomain: [-2.2397, -0.7967],
  xTicks: scatterXTicks, xMinor: scatterXMinor, yTicks: scatterYTicks, yMinor: scatterYMinor,
  fmt: fmt(".1f"), yfmt: fmt(".1f"),
  xTitle: "Actual log stem duration", yTitle: "Predicted log stem duration", yTitleX: 32};
const pL = buildPanel(cfgL);
pL.g.append("g").selectAll("circle").data(scatterPoints).join("circle")
  .attr("cx", d => pL.x(d[0])).attr("cy", d => pL.y(d[1])).attr("r", 1.7).attr("fill", "#000");
finishPanel(pL, cfgL);

// Right panel
const cfgR = {id: "clipR", left: 710.7, top: 22, width: 490.5, height: 572,
  xDomain: [-3.812, 3.81], yDomain: [-3.278, 3.089],
  xTicks: qqXTicks, xMinor: qqXMinor, yTicks: qqYTicks, yMinor: qqYMinor,
  fmt: fmt("d"), yfmt: fmt("d"),
  xTitle: "theoretical", yTitle: "sample", yTitleX: 659};
const pR = buildPanel(cfgR);
pR.g.append("g").selectAll("circle").data(qqPoints).join("circle")
  .attr("cx", d => pR.x(d[0])).attr("cy", d => pR.y(d[1])).attr("r", 4.3).attr("fill", "#000");
const xd = pR.x.domain();
pR.g.append("g").attr("clip-path", "url(#clipR)").append("line")
  .attr("x1", pR.x(xd[0])).attr("y1", pR.y(qqLineCoef[0] * xd[0] + qqLineCoef[1]))
  .attr("x2", pR.x(xd[1])).attr("y2", pR.y(qqLineCoef[0] * xd[1] + qqLineCoef[1]))
  .attr("stroke", "#B03060").attr("stroke-width", 2.6).attr("stroke-dasharray", "11,8");
finishPanel(pR, cfgR);
</script>
</body></html>
